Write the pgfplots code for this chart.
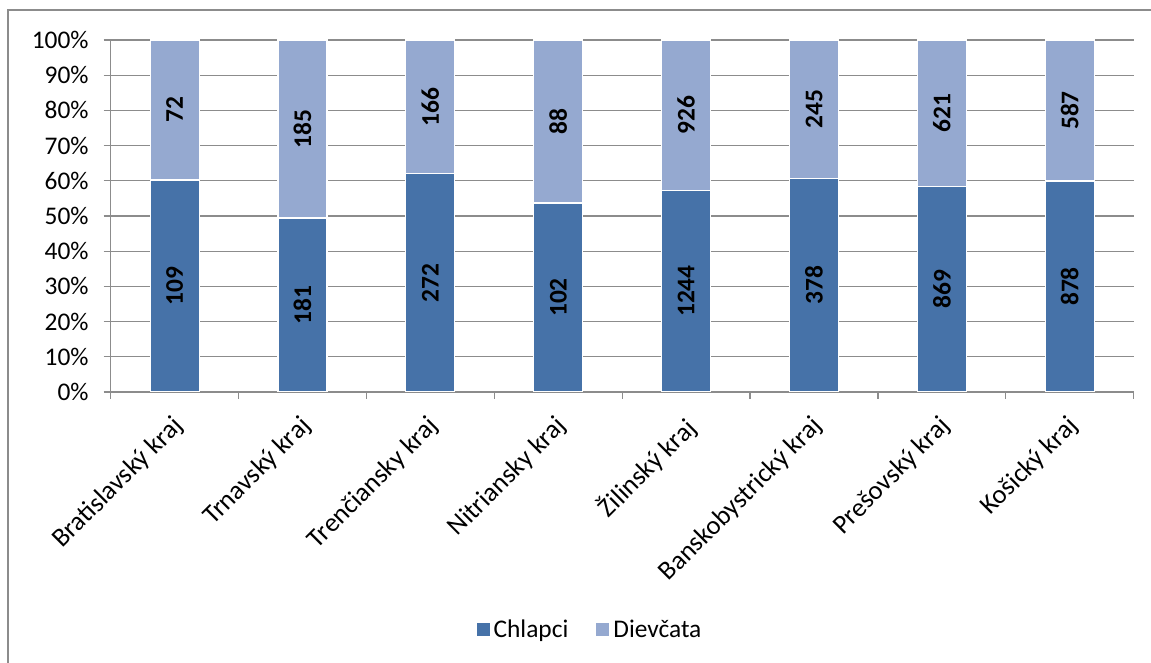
\documentclass[border=0pt]{standalone}
\usepackage{pgfplots}
\pgfplotsset{compat=1.18}
\usepackage{pgfplotstable}
\usepackage{fontspec}
\setmainfont{Carlito}
\definecolor{boys}{HTML}{4672A8}
\definecolor{girls}{HTML}{95A9D0}
\definecolor{gridc}{HTML}{8C8C8C}
\newcommand{\lf}{\fontsize{12.7}{15}\selectfont}
\newcommand{\xf}{\fontsize{13.3}{15.5}\selectfont}

\pgfplotstableread{
x boys girls
0 109 72
1 181 185
2 272 166
3 102 88
4 1244 926
5 378 245
6 869 621
7 878 587
}\datatable

\begin{document}
\begin{tikzpicture}[x=1pt,y=1pt]
\path[use as bounding box] (0,0) rectangle (575.5,331.5);
\draw[gridc, line width=0.6pt] (4,0) -- (4,326.5) -- (575.5,326.5);
\begin{axis}[
  at={(55.35pt,135.5pt)}, anchor=south west,
  scale only axis, width=511.5pt, height=176pt,
  ybar stacked, bar width=24.5pt,
  xmin=-0.5, xmax=7.5, ymin=0, ymax=100,
  axis x line*=bottom, axis y line*=left,
  axis line style={gridc, line width=0.6pt},
  ytick={0,10,...,100},
  yticklabel={\pgfmathprintnumber{\tick}\%},
  /pgf/number format/assume math mode=true,
  ymajorgrids, grid style={gridc, line width=0.6pt},
  tick align=outside, major tick length=3.5pt, minor tick length=3.5pt,
  major y tick style={gridc, line width=0.6pt},
  major x tick style={draw=none},
  minor x tick style={gridc, line width=0.6pt},
  xtick={0,...,7},
  minor xtick={-0.5,0.5,...,7.5},
  xticklabels={Bratislavský kraj, Trnavský kraj, Trenčiansky kraj, Nitriansky kraj, Žilinský kraj, Banskobystrický kraj, Prešovský kraj, Košický kraj},
  x tick label style={font=\xf, xshift=-2pt, yshift=-6pt, rotate=45, anchor=north east, inner sep=1pt},
  y tick label style={font=\lf, xshift=-4pt},
  legend style={draw=none, fill=none, legend columns=2, at={(0.4695,-0.676)}, anchor=center, font=\lf,
    /tikz/every even column/.append style={column sep=12pt}},
  legend image code/.code={\fill[#1, draw=none] (0pt,-3.25pt) rectangle (6.5pt,3.25pt);},
]
\addplot[fill=boys, draw=white, line width=0.6pt] table[x=x, y expr={100*\thisrow{boys}/(\thisrow{boys}+\thisrow{girls})}] {\datatable};
\addplot[fill=girls, draw=white, line width=0.6pt] table[x=x, y expr={100*\thisrow{girls}/(\thisrow{boys}+\thisrow{girls})}] {\datatable};
\legend{Chlapci, Dievčata}
\end{axis}
\begin{axis}[
  at={(55.35pt,135.5pt)}, anchor=south west,
  scale only axis, width=511.5pt, height=176pt,
  xmin=-0.5, xmax=7.5, ymin=0, ymax=100, hide axis,
  nodes near coords, point meta=explicit symbolic,
  every node near coord/.style={font=\lf\bfseries, rotate=90, anchor=center, black, inner sep=0pt},
]
\addplot[draw=none, mark=none] table[x=x, y expr={50*\thisrow{boys}/(\thisrow{boys}+\thisrow{girls})}, meta=boys] {\datatable};
\addplot[draw=none, mark=none] table[x=x, y expr={100*\thisrow{boys}/(\thisrow{boys}+\thisrow{girls})+50*\thisrow{girls}/(\thisrow{boys}+\thisrow{girls})}, meta=girls] {\datatable};
\end{axis}
\end{tikzpicture}
\end{document}
